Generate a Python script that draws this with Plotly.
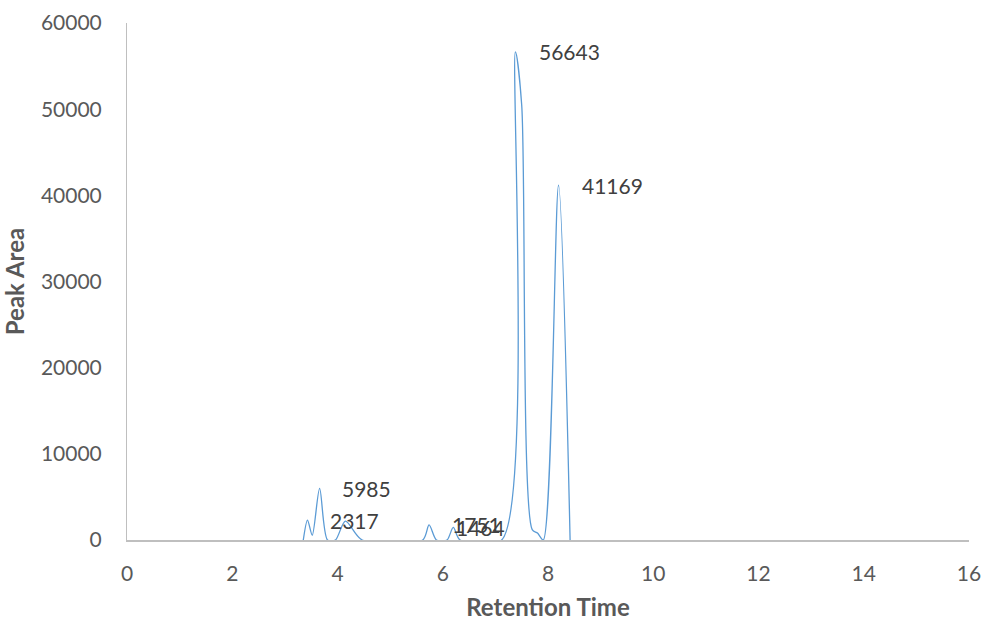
import plotly.graph_objects as go

# Chromatogram: retention time (min) vs peak area, drawn as a smoothed line
retention_time = [3.35, 3.43, 3.52, 3.66, 3.81, 3.96, 4.15, 4.47,
                  5.62, 5.74, 5.88, 6.08, 6.20, 6.33,
                  7.12, 7.38, 7.50, 7.70, 7.80, 7.91, 8.20, 8.42]
peak_area = [0, 2317, 550, 5985, 0, 0, 2200, 0,
             0, 1751, 0, 0, 1464, 0,
             0, 56643, 50500, 1200, 800, 0, 41169, 0]

# Peaks that carry a value label, with the label's horizontal offset (px)
label_index = [1, 3, 9, 12, 15, 20]
label_xshift = [20, 20, 21, 1, 22, 21]

line_color = "#5b9bd5"
tick_color = "#595959"
axis_color = "#bfbfbf"
font_family = "Lato, 'Open Sans', sans-serif"

fig = go.Figure()
fig.add_trace(go.Scatter(
    x=retention_time, y=peak_area, mode="lines",
    line=dict(color=line_color, width=1.3, shape="spline", smoothing=0.8),
    hoverinfo="x+y", showlegend=False,
))

for i, dx in zip(label_index, label_xshift):
    fig.add_annotation(
        x=retention_time[i], y=peak_area[i], text=str(peak_area[i]),
        showarrow=False, xanchor="left", yanchor="middle", xshift=dx,
        font=dict(family=font_family, size=21, color="#404040"),
    )

fig.update_layout(
    width=984, height=621,
    margin=dict(l=127, r=15, t=23, b=81, autoexpand=False),
    paper_bgcolor="white", plot_bgcolor="white",
    font=dict(family=font_family, size=21, color=tick_color),
    xaxis=dict(
        range=[0, 16], dtick=2, tick0=0, showgrid=False, zeroline=False,
        showline=True, linecolor=axis_color, linewidth=2, automargin=False,
        ticks="", ticklabelstandoff=14, tickformat="d",
        tickfont=dict(size=21, color=tick_color),
        title=dict(text="<b>Retention Time</b>", standoff=17,
                   font=dict(size=24, color=tick_color)),
    ),
    yaxis=dict(
        range=[0, 60000], dtick=10000, tick0=0, showgrid=False, zeroline=False,
        showline=True, linecolor=axis_color, linewidth=1, automargin=False,
        ticks="", ticklabelstandoff=20, tickformat="d",
        tickfont=dict(size=21, color=tick_color),
        title=dict(text="<b>Peak Area</b>", standoff=10,
                   font=dict(size=24, color=tick_color)),
    ),
)

fig.write_html("out.html")
